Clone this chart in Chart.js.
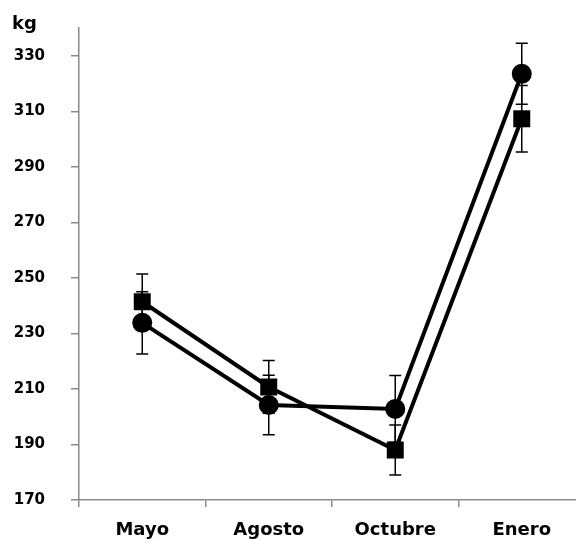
<!DOCTYPE html>
<html>
<head>
<meta charset="utf-8">
<script src="https://cdn.jsdelivr.net/npm/chart.js@4/dist/chart.umd.min.js"></script>
<style>
html,body{margin:0;padding:0;background:#fff;overflow:hidden;width:576px;height:540px;}
#wrap{width:597px;height:540px;}
</style>
</head>
<body>
<div id="wrap"><canvas id="c" width="597" height="540"></canvas></div>
<script>
const categories = ['Mayo', 'Agosto', 'Octubre', 'Enero'];
const seriesCircle = [233.8, 204.2, 202.8, 323.5];
const errCircle = [11.2, 10.7, 12, 11];
const seriesSquare = [241.4, 210.7, 188, 307.3];
const errSquare = [10, 9.5, 9, 12];
const yTicks = [170, 190, 210, 230, 250, 270, 290, 310, 330];
const yMin = 170, yMax = 340;
const unitLabel = 'kg';

const errorBars = {
  id: 'errorBars',
  beforeDatasetsDraw(chart) {
    const ctx = chart.ctx;
    const ys = chart.scales.y;
    ctx.save();
    ctx.strokeStyle = '#000';
    ctx.lineWidth = 1.5;
    chart.data.datasets.forEach((ds, di) => {
      const meta = chart.getDatasetMeta(di);
      meta.data.forEach((pt, i) => {
        const v = ds.data[i], e = ds.errors[i];
        const x = pt.x;
        const yt = ys.getPixelForValue(v + e), yb = ys.getPixelForValue(v - e);
        ctx.beginPath();
        ctx.moveTo(x, yt); ctx.lineTo(x, yb);
        ctx.moveTo(x - 6, yt); ctx.lineTo(x + 6, yt);
        ctx.moveTo(x - 6, yb); ctx.lineTo(x + 6, yb);
        ctx.stroke();
      });
    });
    ctx.restore();
  }
};

const unitText = {
  id: 'unitText',
  afterDraw(chart) {
    const ctx = chart.ctx;
    ctx.save();
    ctx.fillStyle = '#000';
    ctx.font = 'bold 18px "DejaVu Sans"';
    ctx.textBaseline = 'alphabetic';
    ctx.textAlign = 'left';
    ctx.fillText(unitLabel, 12, 29);
    ctx.restore();
  }
};

new Chart(document.getElementById('c'), {
  type: 'line',
  data: {
    labels: categories,
    datasets: [
      {
        data: seriesSquare, errors: errSquare,
        borderColor: '#000', backgroundColor: '#000', borderWidth: 4,
        pointStyle: 'rect', pointRadius: 12, pointHoverRadius: 12,
        pointBorderWidth: 0, tension: 0
      },
      {
        data: seriesCircle, errors: errCircle,
        borderColor: '#000', backgroundColor: '#000', borderWidth: 4,
        pointStyle: 'circle', pointRadius: 10, pointHoverRadius: 10,
        pointBorderWidth: 0, tension: 0
      }
    ]
  },
  options: {
    responsive: false,
    animation: false,
    events: [],
    layout: { padding: { top: 28, right: 0, left: 0, bottom: 0 } },
    plugins: { legend: { display: false }, tooltip: { enabled: false } },
    scales: {
      x: {
        offset: true,
        grid: { offset: true, drawOnChartArea: false, drawTicks: true, tickLength: 7, color: '#8a8a8a', lineWidth: 1.5 },
        border: { display: true, color: '#8a8a8a', width: 1.5 },
        ticks: { color: '#000', padding: 13, font: { family: 'DejaVu Sans', size: 18, weight: 'bold' }, maxRotation: 0 },
        afterFit(s) { s.height = 40; s.paddingLeft = 0; s.paddingRight = 0; }
      },
      y: {
        min: yMin, max: yMax,
        afterBuildTicks(s) { s.ticks = yTicks.map(v => ({ value: v })); },
        grid: { drawOnChartArea: false, drawTicks: true, tickLength: 8, color: '#8a8a8a', lineWidth: 1.5 },
        border: { display: true, color: '#8a8a8a', width: 1.5 },
        ticks: { color: '#000', padding: 26, font: { family: 'DejaVu Sans', size: 15, weight: 'bold' } },
        afterFit(s) { s.width = 79; s.paddingTop = 0; s.paddingBottom = 0; }
      }
    }
  },
  plugins: [errorBars, unitText]
});
</script>
</body>
</html>
